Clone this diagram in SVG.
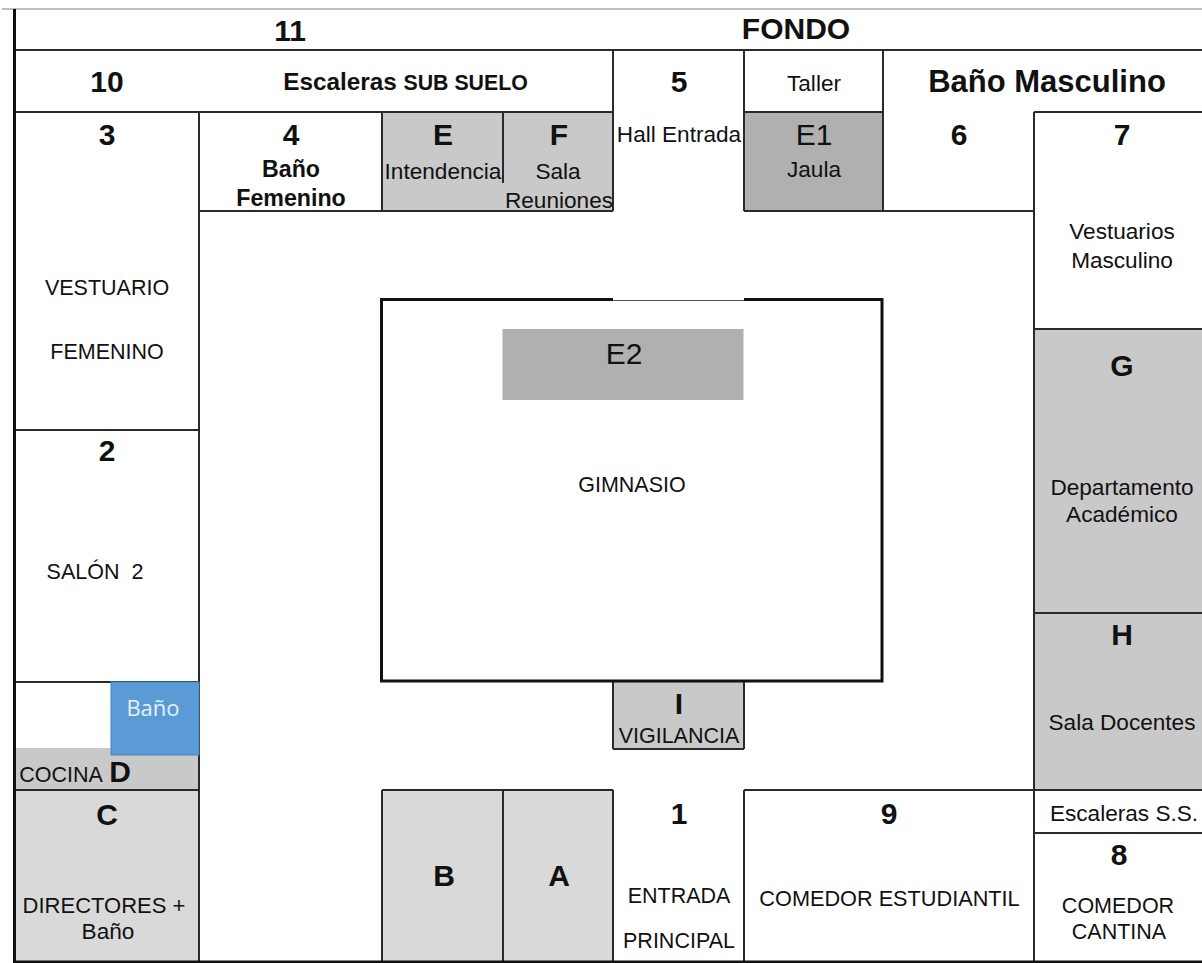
<svg xmlns="http://www.w3.org/2000/svg" width="1202" height="963" viewBox="0 0 1202 963">
<style>
text{font-family:"Liberation Sans",Arial,sans-serif;text-anchor:middle;fill:#111}
.n{font-size:21.5px}
.l{font-size:22.6px}
.b{font-size:30px;font-weight:700}
.m{font-size:23.2px;font-weight:700}
.w{stroke:#2a2a2a;stroke-width:2;fill:none}
.t{stroke:#111;stroke-width:3;fill:none}
</style>
<rect width="1202" height="963" fill="#fff"/>
<g id="fills">
<rect x="382" y="112" width="231" height="99" fill="#c9c9c9"/>
<rect x="744" y="112" width="139" height="99" fill="#b0b0b0"/>
<rect x="1034" y="329" width="168" height="461" fill="#c9c9c9"/>
<rect x="15" y="748" width="184" height="42" fill="#c9c9c9"/>
<rect x="15" y="790" width="184" height="172" fill="#d9d9d9"/>
<rect x="382" y="790" width="231" height="172" fill="#d9d9d9"/>
<rect x="613" y="682" width="131" height="67" fill="#c9c9c9"/>
</g>
<g id="connectors">
<path d="M2 9H1202" stroke="#aaa" stroke-width="1.5" fill="none"/>
<path class="w" d="M15 50H1202M15 112H613M744 112H883M1034 112H1202M199 211H613M744 211H1034M15 430H199M15 682H199M15 790H199M382 790H613M744 790H1202M1034 329H1202M1034 613H1202M1034 833H1202M613 749H744M613 682V749M744 682V749M613 50V211M744 50V211M883 50V211M199 112V962M382 112V211M382 790V962M503 112V183M503 790V962M613 790V962M744 790V962M1034 112V962"/>
<path class="t" d="M14.5 9V963M14 962H1202"/>
</g>
<g id="gimnasio">
<path class="t" d="M613 299.5H381.5V681H882V299.5H744"/>
<path d="M613 300.5H744" stroke="#555" stroke-width="1" fill="none"/>
<text class="n" x="632" y="492">GIMNASIO</text>
</g>
<g id="n11"><text class="b" x="290" y="41">11</text></g>
<g id="fondo"><text class="b" x="796" y="39">FONDO</text></g>
<g id="n10"><text class="b" x="107" y="92">10</text></g>
<g id="escaleras-sub"><text x="405.5" y="90" font-size="24.3" font-weight="700">Escaleras <tspan font-size="21.3">SUB SUELO</tspan></text></g>
<g id="n5"><text class="b" x="679" y="92">5</text><text class="l" x="679" y="142">Hall Entrada</text></g>
<g id="taller"><text class="l" x="814" y="91">Taller</text></g>
<g id="bano-masc"><text x="1047" y="92" font-size="31" font-weight="700">Baño Masculino</text></g>
<g id="n3"><text class="b" x="107" y="145">3</text><text class="n" x="107" y="295">VESTUARIO</text><text class="n" x="107" y="359">FEMENINO</text></g>
<g id="n4"><text class="b" x="291" y="145">4</text><text class="m" x="291" y="177">Baño</text><text class="m" x="291" y="206">Femenino</text></g>
<g id="e"><text class="b" x="443" y="145">E</text><text class="l" x="443" y="179">Intendencia</text></g>
<g id="f"><text class="b" x="559" y="145">F</text><text class="l" x="558" y="179">Sala</text><text class="l" x="559" y="208">Reuniones</text></g>
<g id="e1"><text x="814" y="145" font-size="30">E1</text><text class="l" x="814" y="177">Jaula</text></g>
<g id="n6"><text class="b" x="959" y="145">6</text></g>
<g id="n7"><text class="b" x="1122" y="145">7</text><text class="l" x="1122" y="239">Vestuarios</text><text class="l" x="1122" y="268">Masculino</text></g>
<g id="e2"><rect x="502.5" y="329" width="241" height="71" fill="#b0b0b0"/><text x="624" y="364" font-size="30">E2</text></g>
<g id="g"><text class="b" x="1122" y="376">G</text><text class="l" x="1122" y="495">Departamento</text><text class="l" x="1122" y="522">Académico</text></g>
<g id="h"><text class="b" x="1122" y="645">H</text><text class="l" x="1122" y="730">Sala Docentes</text></g>
<g id="n2"><text class="b" x="107" y="461">2</text><text class="n" x="95" y="579" xml:space="preserve">SALÓN  2</text></g>
<g id="bano"><rect x="111" y="682" width="88" height="73" fill="#5b9bd5" stroke="#4a86bd"/><text x="153" y="716" font-size="22" style="font-family:'Open Sans','Noto Sans',sans-serif;fill:#e8f1fb">Baño</text></g>
<g id="d"><text class="n" x="61" y="782">COCINA</text><text class="b" x="120" y="782">D</text></g>
<g id="c"><text class="b" x="107" y="825">C</text><text x="104" y="913" font-size="22">DIRECTORES +</text><text class="l" x="108" y="939">Baño</text></g>
<g id="b"><text class="b" x="444" y="886">B</text></g>
<g id="a"><text class="b" x="559" y="886">A</text></g>
<g id="i"><text class="b" x="679" y="714">I</text><text class="n" x="679" y="743">VIGILANCIA</text></g>
<g id="n1"><text class="b" x="679" y="824">1</text><text class="n" x="679" y="903">ENTRADA</text><text class="n" x="679" y="948">PRINCIPAL</text></g>
<g id="n9"><text class="b" x="889" y="824">9</text><text x="889.5" y="906" font-size="21.7">COMEDOR ESTUDIANTIL</text></g>
<g id="escaleras-ss"><text class="l" x="1124" y="821">Escaleras S.S.</text></g>
<g id="n8"><text class="b" x="1119" y="865">8</text><text class="n" x="1118" y="913">COMEDOR</text><text class="n" x="1119" y="939">CANTINA</text></g>
</svg>
